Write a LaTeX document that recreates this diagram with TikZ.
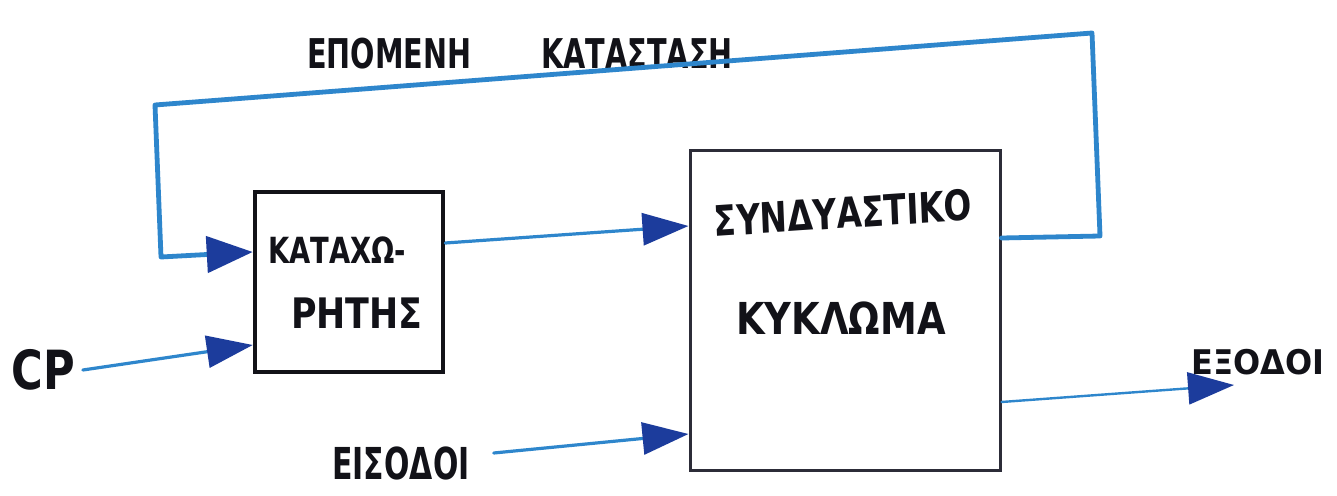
\documentclass[tikz,border=0pt]{standalone}
\usepackage{fontspec}
\setmainfont{DejaVu Sans}
\usetikzlibrary{arrows.meta}
\definecolor{ink}{HTML}{121218}
\definecolor{boxgray}{HTML}{2C2C38}
\definecolor{wire}{HTML}{2E86CC}
\definecolor{tipblue}{HTML}{1C3C9C}
\tikzset{
  lbl/.style={text=ink, inner sep=0pt},
  regbox/.style={draw=ink, line width=4.5pt, minimum width=188pt, minimum height=180pt, inner sep=0pt},
  combox/.style={draw=boxgray, line width=3pt, minimum width=310pt, minimum height=320pt, inner sep=0pt},
  wirearrow/.style={draw=wire, line width=3.2pt, line cap=round,
    -{Triangle[length=46pt,width=32pt,color=tipblue]}},
  loopwire/.style={draw=wire, line width=4.8pt, line join=round, line cap=round,
    -{Triangle[length=46pt,width=36pt,color=tipblue]}}
}
\begin{document}
\begin{tikzpicture}[x=1pt,y=-1pt]
\useasboundingbox[fill=white] (0,0) rectangle (1337,495);

% blocks
\node[regbox] (reg) at (349,282) {};
\node[combox] (comb) at (845,310) {};

% block texts
\node[lbl, font={\fontsize{36}{38}\selectfont\bfseries}, xscale=0.76] (regtxta) at (337,250) {ΚΑΤΑΧΩ-};
\node[lbl, font={\fontsize{42}{44}\selectfont\bfseries}, xscale=0.83] (regtxtb) at (357,313) {ΡΗΤΗΣ};
\node[lbl, font={\fontsize{42}{44}\selectfont\bfseries}, xscale=0.78, rotate=3] (combtxta) at (843,213) {ΣΥΝΔΥΑΣΤΙΚΟ};
\node[lbl, font={\fontsize{44}{46}\selectfont\bfseries}, xscale=0.84] (combtxtb) at (841,318) {ΚΥΚΛΩΜΑ};

% outside labels
\node[lbl, font={\fontsize{41}{43}\selectfont\bfseries}, xscale=0.7] (next) at (520,54) {ΕΠΟΜΕΝΗ\hspace{100pt}ΚΑΤΑΣΤΑΣΗ};
\node[lbl, font={\fontsize{54}{56}\selectfont\bfseries}, xscale=0.8] (cp) at (43,370) {CP};
\node[lbl, font={\fontsize{44}{46}\selectfont\bfseries}, xscale=0.68] (ins) at (401,463) {ΕΙΣΟΔΟΙ};
\node[lbl, font={\fontsize{34}{36}\selectfont\bfseries}, xscale=0.94] (outs) at (1258,362) {ΕΞΟΔΟΙ};

% loop corners
\coordinate (loopa) at (1100,236);
\coordinate (loopb) at (1092,33);
\coordinate (loopc) at (155,105);
\coordinate (loopd) at (161,257);
\coordinate (outend) at (1234,385);

% connectors
\draw[loopwire] ([yshift=72pt]comb.east) -- (loopa) -- (loopb) -- (loopc) -- (loopd) -- ([yshift=30pt]reg.west);
\draw[wirearrow] ([yshift=39pt]reg.east) -- ([yshift=84pt]comb.west);
\draw[wirearrow] ([xshift=8pt]cp.east) -- ([yshift=-63pt]reg.west);
\draw[wirearrow] ([xshift=24pt,yshift=10pt]ins.east) -- ([yshift=-124pt]comb.west);
\draw[wirearrow, line width=2.4pt] ([yshift=-92pt]comb.east) -- (outend);
\end{tikzpicture}
\end{document}
